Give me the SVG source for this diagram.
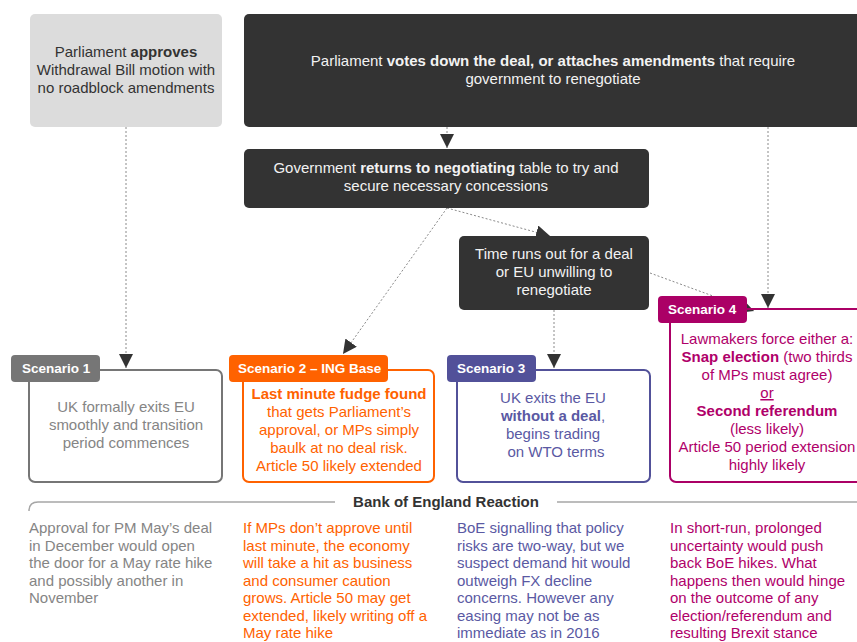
<svg xmlns="http://www.w3.org/2000/svg" width="857" height="642" viewBox="0 0 857 642">
<style>
text{font-family:"Liberation Sans",Arial,sans-serif;font-size:15px}
.c{text-anchor:middle}
.b{font-weight:bold}
.w{fill:#f2f2f2}
.dk{fill:#333333}
.tab{font-size:13.5px;font-weight:bold;fill:#ffffff}
.dash{stroke:#8a8a8a;stroke-width:1;stroke-dasharray:2 2;fill:none}
.g{fill:#858585}.o{fill:#ff6200}.p{fill:#5a59a3}.m{fill:#b0006a}
</style>
<defs>
<marker id="ah" viewBox="0 0 10 10" refX="10" refY="5" markerWidth="14" markerHeight="14" markerUnits="userSpaceOnUse" orient="auto">
<path d="M0,0 L10,5 L0,10 Z" fill="#333333"/>
</marker>
</defs>
<rect width="857" height="642" fill="#ffffff"/>

<g id="connectors">
<line class="dash" x1="126" y1="127" x2="126" y2="368" marker-end="url(#ah)"/>
<line class="dash" x1="447" y1="127" x2="447" y2="148" marker-end="url(#ah)"/>
<line class="dash" x1="768" y1="127" x2="768" y2="308" marker-end="url(#ah)"/>
<line class="dash" x1="447" y1="208" x2="343" y2="354" marker-end="url(#ah)"/>
<line class="dash" x1="447" y1="208" x2="550" y2="236" marker-end="url(#ah)"/>
<line class="dash" x1="554" y1="310" x2="554" y2="368" marker-end="url(#ah)"/>
<line class="dash" x1="650" y1="273" x2="754" y2="311" marker-end="url(#ah)"/>
</g>

<g id="approves">
<rect x="30" y="14" width="192" height="113" rx="5" fill="#dcdcdc"/>
<text class="c dk" x="126" y="57">Parliament <tspan class="b">approves</tspan></text>
<text class="c dk" x="126" y="75">Withdrawal Bill motion with</text>
<text class="c dk" x="126" y="93">no roadblock amendments</text>
</g>

<g id="votes-down">
<rect x="244" y="14" width="630" height="113" rx="5" fill="#333333"/>
<text class="c w" x="553" y="66">Parliament <tspan class="b">votes down the deal, or attaches amendments</tspan> that require</text>
<text class="c w" x="553" y="84">government to renegotiate</text>
</g>

<g id="returns">
<rect x="244" y="149" width="405" height="59" rx="5" fill="#333333"/>
<text class="c w" x="446" y="173">Government <tspan class="b">returns to negotiating</tspan> table to try and</text>
<text class="c w" x="446" y="191">secure necessary concessions</text>
</g>

<g id="time-runs-out">
<rect x="459" y="236" width="190" height="74" rx="5" fill="#333333"/>
<text class="c w" x="554" y="259">Time runs out for a deal</text>
<text class="c w" x="554" y="277">or EU unwilling to</text>
<text class="c w" x="554" y="295">renegotiate</text>
</g>

<g id="scenario1">
<rect x="29" y="370" width="193" height="112" rx="6" fill="none" stroke="#767676" stroke-width="2"/>
<rect x="11" y="355" width="89" height="27" rx="4" fill="#767676"/>
<text class="tab" x="22" y="373">Scenario 1</text>
<text class="c g" x="126" y="412">UK formally exits EU</text>
<text class="c g" x="126" y="430">smoothly and transition</text>
<text class="c g" x="126" y="448">period commences</text>
</g>

<g id="scenario2">
<rect x="243" y="370" width="191" height="112" rx="6" fill="none" stroke="#ff6200" stroke-width="2"/>
<rect x="229" y="355" width="159" height="27" rx="4" fill="#ff6200"/>
<text class="tab" x="238" y="373">Scenario 2 – ING Base</text>
<text class="c o b" x="339" y="399">Last minute fudge found</text>
<text class="c o" x="339" y="417">that gets Parliament’s</text>
<text class="c o" x="339" y="435">approval, or MPs simply</text>
<text class="c o" x="339" y="453">baulk at no deal risk.</text>
<text class="c o" x="339" y="471">Article 50 likely extended</text>
</g>

<g id="scenario3">
<rect x="457" y="370" width="193" height="112" rx="6" fill="none" stroke="#525199" stroke-width="2"/>
<rect x="447" y="355" width="89" height="27" rx="4" fill="#525199"/>
<text class="tab" x="457" y="373">Scenario 3</text>
<text class="c p" x="553" y="403">UK exits the EU</text>
<text class="c p" x="553" y="421"><tspan class="b">without a deal</tspan>,</text>
<text class="c p" x="553" y="439">begins trading</text>
<text class="c p" x="556" y="457">on WTO terms</text>
</g>

<g id="scenario4">
<rect x="670" y="309" width="210" height="173" rx="6" fill="none" stroke="#ab0066" stroke-width="2"/>
<rect x="658" y="296" width="89" height="27" rx="4" fill="#ab0066"/>
<text class="tab" x="668" y="314">Scenario 4</text>
<text class="c m" x="767" y="344">Lawmakers force either a:</text>
<text class="c m" x="767" y="362"><tspan class="b">Snap election</tspan> (two thirds</text>
<text class="c m" x="767" y="380">of MPs must agree)</text>
<text class="c m" x="767" y="398" text-decoration="underline">or</text>
<text class="c m b" x="767" y="416">Second referendum</text>
<text class="c m" x="767" y="434">(less likely)</text>
<text class="c m" x="767" y="452">Article 50 period extension</text>
<text class="c m" x="767" y="470">highly likely</text>
</g>

<g id="boe-header">
<path d="M29,511 Q29,502 38,502 L335,502" fill="none" stroke="#a6a6a6" stroke-width="1.5"/>
<line x1="557" y1="502" x2="857" y2="502" stroke="#a6a6a6" stroke-width="1.5"/>
<text class="c b dk" x="446" y="507">Bank of England Reaction</text>
</g>

<g id="boe-col1">
<text class="g" x="29" y="533">Approval for PM May’s deal</text>
<text class="g" x="29" y="550.5">in December would open</text>
<text class="g" x="29" y="568">the door for a May rate hike</text>
<text class="g" x="29" y="585.5">and possibly another in</text>
<text class="g" x="29" y="603">November</text>
</g>
<g id="boe-col2">
<text class="o" x="243" y="533">If MPs don’t approve until</text>
<text class="o" x="243" y="550.5">last minute, the economy</text>
<text class="o" x="243" y="568">will take a hit as business</text>
<text class="o" x="243" y="585.5">and consumer caution</text>
<text class="o" x="243" y="603">grows. Article 50 may get</text>
<text class="o" x="243" y="620.5">extended, likely writing off a</text>
<text class="o" x="243" y="637.5">May rate hike</text>
</g>
<g id="boe-col3">
<text class="p" x="457" y="533">BoE signalling that policy</text>
<text class="p" x="457" y="550.5">risks are two-way, but we</text>
<text class="p" x="457" y="568">suspect demand hit would</text>
<text class="p" x="457" y="585.5">outweigh FX decline</text>
<text class="p" x="457" y="603">concerns. However any</text>
<text class="p" x="457" y="620.5">easing may not be as</text>
<text class="p" x="457" y="637.5">immediate as in 2016</text>
</g>
<g id="boe-col4">
<text class="m" x="670" y="533">In short-run, prolonged</text>
<text class="m" x="670" y="550.5">uncertainty would push</text>
<text class="m" x="670" y="568">back BoE hikes. What</text>
<text class="m" x="670" y="585.5">happens then would hinge</text>
<text class="m" x="670" y="603">on the outcome of any</text>
<text class="m" x="670" y="620.5">election/referendum and</text>
<text class="m" x="670" y="637.5">resulting Brexit stance</text>
</g>
</svg>
